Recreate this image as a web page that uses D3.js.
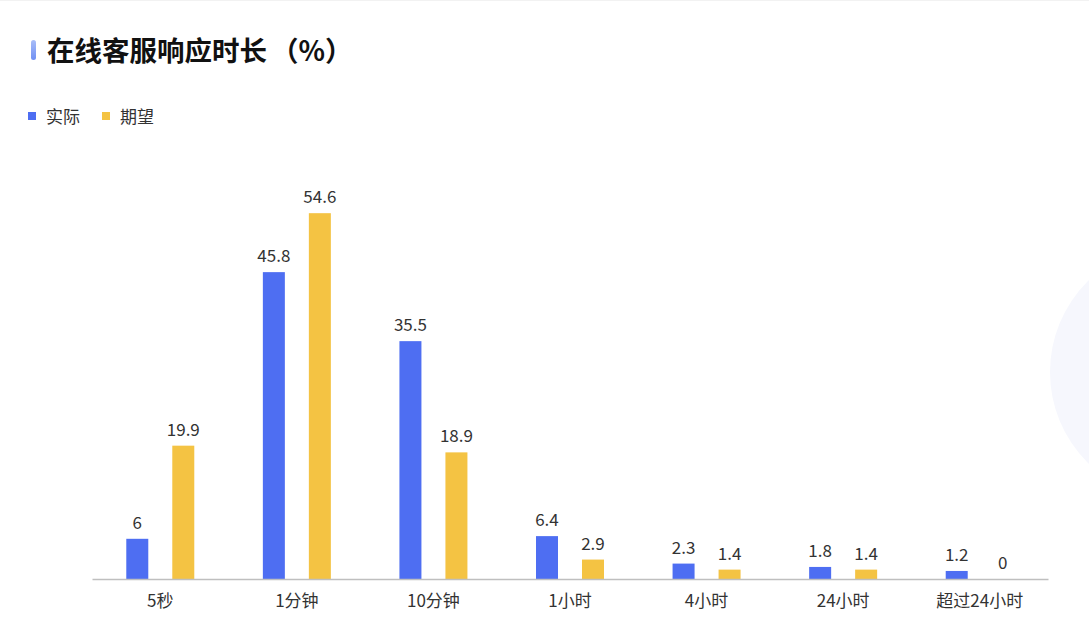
<!DOCTYPE html>
<html><head><meta charset="utf-8">
<script src="https://cdn.jsdelivr.net/npm/d3@7/dist/d3.min.js"></script>
<style>
html,body{margin:0;padding:0;background:#fff;}
svg{display:block;font-family:"Noto Sans CJK SC","Noto Sans",sans-serif;}
</style></head>
<body>
<svg id="chart" width="1089" height="640"></svg>
<script>
const categories = ["5秒","1分钟","10分钟","1小时","4小时","24小时","超过24小时"];
const actual = [6, 45.8, 35.5, 6.4, 2.3, 1.8, 1.2];
const expected = [19.9, 54.6, 18.9, 2.9, 1.4, 1.4, 0];
const seriesNames = ["实际","期望"];
const colors = ["#4e6ef2","#f4c343"];

const svg = d3.select("#chart");
const W = 1089, H = 640;

// decorative background circle
svg.append("circle").attr("cx",1178).attr("cy",372).attr("r",128).attr("fill","#f6f7fd");
svg.append("line").attr("x1",0).attr("x2",W).attr("y1",0.5).attr("y2",0.5).attr("stroke","#f2f2f2");

// title
const grad = svg.append("defs").append("linearGradient").attr("id","pill").attr("x1","0").attr("y1","0").attr("x2","0").attr("y2","1");
grad.append("stop").attr("offset","0").attr("stop-color","#a9bdf8");
grad.append("stop").attr("offset","1").attr("stop-color","#6f8ff3");
svg.append("rect").attr("x",31).attr("y",40).attr("width",5).attr("height",20).attr("rx",2.5).attr("fill","url(#pill)");
const title = svg.append("text").attr("x",47).attr("y",61).attr("font-size",27.5).attr("font-weight",700).attr("fill","#111");
title.append("tspan").text("在线客服响应时长");
title.append("tspan").attr("dx",4).text("（%）");

// legend
const lg = svg.append("g");
seriesNames.forEach((n,i)=>{
  const lx = 28 + i*74;
  lg.append("rect").attr("x",lx).attr("y",112).attr("width",8).attr("height",8).attr("fill",colors[i]);
  lg.append("text").attr("x",lx+18).attr("y",122.5).attr("font-size",17).attr("fill","#333").text(n);
});

const x0 = 92, x1 = 1048, yBase = 579;
const x = d3.scaleBand().domain(categories).range([x0,x1]).padding(0);
const y = d3.scaleLinear().domain([0,60]).range([yBase, yBase - 60*6.70]);
const barW = 22, off = 23;

const data = categories.map((c,i)=>({c, vals:[actual[i], expected[i]]}));
const g = svg.append("g");
data.forEach(d=>{
  d.vals.forEach((v,k)=>{
    const cx = x(d.c) + x.bandwidth()/2 + (k===0?-off:off);
    g.append("rect").attr("x",cx-barW/2).attr("y",y(v)).attr("width",barW).attr("height",yBase-y(v)).attr("fill",colors[k]);
    g.append("text").attr("x",cx).attr("y",y(v)-10).attr("text-anchor","middle").attr("font-size",17).attr("fill","#333").text(v);
  });
});

// x axis
const ax = svg.append("g").attr("transform",`translate(0,${yBase})`).call(d3.axisBottom(x).tickSize(0).tickPadding(16));
ax.select(".domain").attr("stroke","#bfbfbf").attr("stroke-width",1.5);
ax.selectAll("text").attr("font-size",17).attr("fill","#333").attr("font-family",'"Noto Sans CJK SC","Noto Sans",sans-serif');
</script>
</body></html>
